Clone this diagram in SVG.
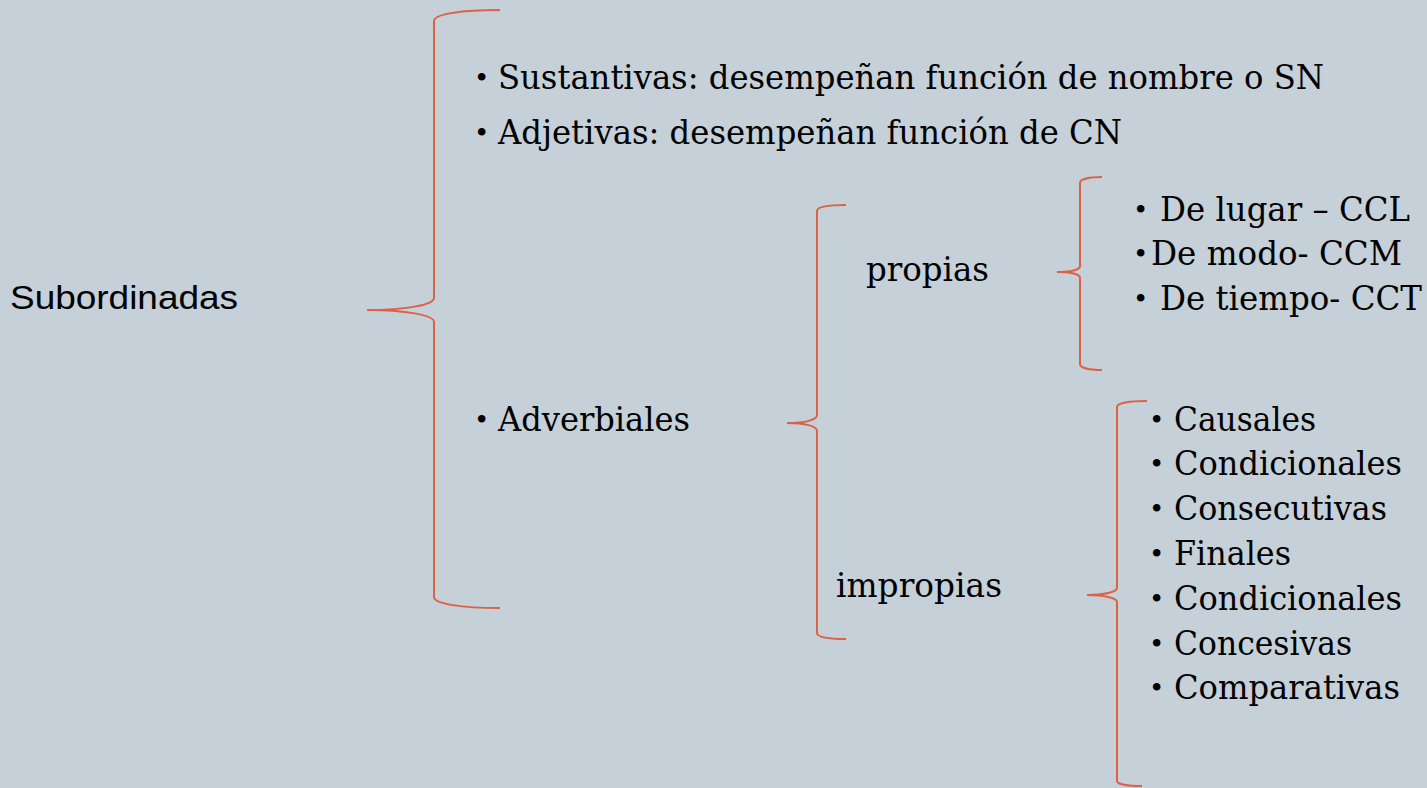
<svg xmlns="http://www.w3.org/2000/svg" width="1427" height="788" viewBox="0 0 1427 788">
<style>
.bg{fill:#C5D0D8}
.br{fill:none;stroke:#DC6245;stroke-width:2}
.t{font-family:"DejaVu Serif","Liberation Serif",serif;font-size:33px;fill:#000}
.b{font-family:"DejaVu Serif","Liberation Serif",serif;font-size:26px;fill:#000}
.s{font-family:"Liberation Sans",Arial,sans-serif;font-size:34px;fill:#000}
</style>
<rect class="bg" x="0" y="0" width="1427" height="788"/>
<g id="connectors">
<path class="br" d="M500,10 C462,10 434,14 434,21 L434,298 C434,305 405,310 367,310 C405,310 434,315 434,322 L434,597 C434,604 462,608 500,608"/>
<path class="br" d="M846,205 C828,205 817,207 817,211 L817,415 C817,420 805,423 787,423 C805,423 817,426 817,431 L817,633 C817,637 828,639 846,639"/>
<path class="br" d="M1102,177 C1090,177 1080,179 1080,183 L1080,266 C1080,270 1070,272 1057,272 C1070,272 1080,274 1080,278 L1080,364 C1080,368 1090,370 1102,370"/>
<path class="br" d="M1147,401 C1130,401 1117,403 1117,407 L1117,588 C1117,592 1104,595 1087,595 C1104,595 1117,598 1117,602 L1117,781 C1117,784 1128,786 1142,786"/>
</g>
<g id="subordinadas"><text class="s" x="10" y="309" textLength="228" lengthAdjust="spacingAndGlyphs">Subordinadas</text></g>
<g id="sustantivas"><text class="b" x="474" y="87">•</text><text class="t" x="498" y="89" textLength="826" lengthAdjust="spacingAndGlyphs">Sustantivas: desempeñan función de nombre o SN</text></g>
<g id="adjetivas"><text class="b" x="474" y="142">•</text><text class="t" x="498" y="144" textLength="624" lengthAdjust="spacingAndGlyphs">Adjetivas: desempeñan función de CN</text></g>
<g id="adverbiales"><text class="b" x="474" y="429">•</text><text class="t" x="498" y="431" textLength="192" lengthAdjust="spacingAndGlyphs">Adverbiales</text></g>
<g id="propias"><text class="t" x="866" y="281" textLength="123" lengthAdjust="spacingAndGlyphs">propias</text></g>
<g id="impropias"><text class="t" x="836" y="597" textLength="166" lengthAdjust="spacingAndGlyphs">impropias</text></g>
<g id="propias-list">
<text class="b" x="1133" y="219">•</text><text class="t" x="1160" y="221" textLength="250" lengthAdjust="spacingAndGlyphs">De lugar – CCL</text>
<text class="b" x="1133" y="263">•</text><text class="t" x="1151" y="265" textLength="251" lengthAdjust="spacingAndGlyphs">De modo- CCM</text>
<text class="b" x="1133" y="308">•</text><text class="t" x="1160" y="310" textLength="262" lengthAdjust="spacingAndGlyphs">De tiempo- CCT</text>
</g>
<g id="impropias-list">
<text class="b" x="1149" y="429">•</text><text class="t" x="1174" y="431" textLength="142" lengthAdjust="spacingAndGlyphs">Causales</text>
<text class="b" x="1149" y="473">•</text><text class="t" x="1174" y="475" textLength="228" lengthAdjust="spacingAndGlyphs">Condicionales</text>
<text class="b" x="1149" y="518">•</text><text class="t" x="1174" y="520" textLength="213" lengthAdjust="spacingAndGlyphs">Consecutivas</text>
<text class="b" x="1149" y="563">•</text><text class="t" x="1174" y="565" textLength="117" lengthAdjust="spacingAndGlyphs">Finales</text>
<text class="b" x="1149" y="608">•</text><text class="t" x="1174" y="610" textLength="228" lengthAdjust="spacingAndGlyphs">Condicionales</text>
<text class="b" x="1149" y="653">•</text><text class="t" x="1174" y="655" textLength="178" lengthAdjust="spacingAndGlyphs">Concesivas</text>
<text class="b" x="1149" y="697">•</text><text class="t" x="1174" y="699" textLength="226" lengthAdjust="spacingAndGlyphs">Comparativas</text>
</g>
</svg>
